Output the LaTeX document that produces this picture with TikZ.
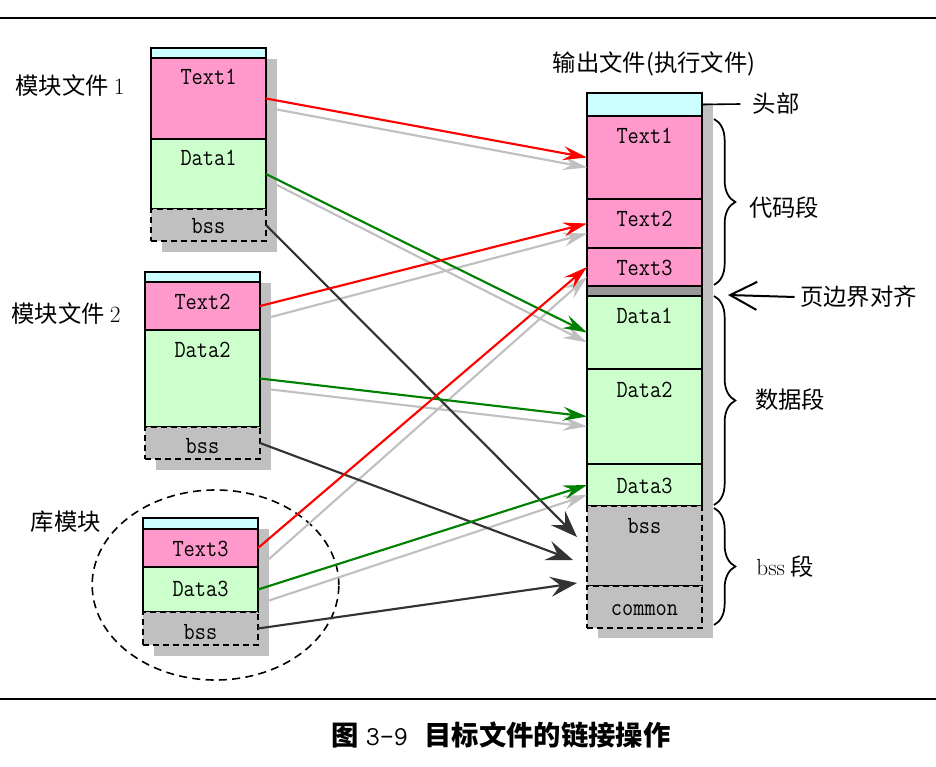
\documentclass[tikz,border=0pt]{standalone}
\usepackage{fontspec}
\newfontfamily\cjk{Noto Sans CJK SC}
\usetikzlibrary{arrows.meta, fit, shapes.geometric, decorations.pathreplacing}
\definecolor{hdrc}{HTML}{CCFFFF}
\definecolor{txtc}{HTML}{FF99CC}
\definecolor{datc}{HTML}{CCFFCC}
\definecolor{bssc}{HTML}{C0C0C0}
\definecolor{shc}{HTML}{C0C0C0}
\definecolor{stripc}{HTML}{999999}
\definecolor{darkc}{HTML}{333333}
\definecolor{grnc}{HTML}{008000}
\newcommand\mtx[1]{\scalebox{0.88}[1]{#1}}
\begin{document}
\begin{tikzpicture}[x=0.75pt, y=-0.75pt,
 sec/.style={draw, line width=2.1pt, inner sep=0pt, outer sep=0pt},
 hdr/.style={sec, fill=hdrc},
 txt/.style={sec, fill=txtc},
 dat/.style={sec, fill=datc},
 bsb/.style={sec, fill=bssc, dash pattern=on 4.5pt off 3pt},
 strip/.style={sec, fill=stripc},
 lbl/.style={anchor=base, inner sep=0pt, font=\fontsize{18.5}{20}\selectfont\ttfamily},
 cn/.style={font=\fontsize{17.5}{20}\selectfont\cjk, inner sep=0pt},
 link/.style={line width=1.6pt, -{Stealth[length=18pt, width=10.5pt, inset=6.5pt]}},
 redl/.style={link, draw=red},
 grnl/.style={link, draw=grnc},
 gryl/.style={link, draw=shc},
 drkl/.style={line width=1.6pt, draw=darkc, -{Stealth[length=20pt, width=15pt, inset=7.5pt]}},
 brc/.style={decorate, decoration={brace, amplitude=16pt}, line width=1.3pt}
]
\useasboundingbox (0,0) rectangle (936,767);
% rules
\draw[line width=2.2pt] (0,18) -- (936,18);
\draw[line width=2.2pt] (0,699) -- (936,699);

% library ellipse
\node[draw, ellipse, dash pattern=on 6pt off 4pt, line width=1.2pt, minimum width=185pt, minimum height=142.5pt, inner sep=0pt] (libov) at (215.5,585) {};

% shadows
\fill[shc] (162,59) rectangle (277,252);
\fill[shc] (156,283) rectangle (271,470);
\fill[shc] (154,529) rectangle (269,656);
\fill[shc] (598,103) rectangle (713,638);

% module 1
\node[hdr, fit={(151,48) (266,58)}] (m1h) {};
\node[txt, fit={(151,58) (266,139)}] (m1t) {};
\node[dat, fit={(151,139) (266,209)}] (m1d) {};
\node[bsb, fit={(151,209) (266,241)}] (m1b) {};
\node[lbl] at ([shift={(0,27)}]m1t.north) {\mtx{Text1}};
\node[lbl] at ([shift={(0,27)}]m1d.north) {\mtx{Data1}};
\node[lbl] at ([shift={(0,24)}]m1b.north) {\mtx{bss}};

% module 2
\node[hdr, fit={(145,272) (260,282)}] (m2h) {};
\node[txt, fit={(145,282) (260,330)}] (m2t) {};
\node[dat, fit={(145,330) (260,427)}] (m2d) {};
\node[bsb, fit={(145,427) (260,459)}] (m2b) {};
\node[lbl] at ([shift={(0,27)}]m2t.north) {\mtx{Text2}};
\node[lbl] at ([shift={(0,27)}]m2d.north) {\mtx{Data2}};
\node[lbl] at ([shift={(0,26)}]m2b.north) {\mtx{bss}};

% library module
\node[hdr, fit={(143,518) (258,529)}] (m3h) {};
\node[txt, fit={(143,529) (258,567)}] (m3t) {};
\node[dat, fit={(143,567) (258,612)}] (m3d) {};
\node[bsb, fit={(143,612) (258,645)}] (m3b) {};
\node[lbl] at ([shift={(0,27)}]m3t.north) {\mtx{Text3}};
\node[lbl] at ([shift={(0,29)}]m3d.north) {\mtx{Data3}};
\node[lbl] at ([shift={(0,27)}]m3b.north) {\mtx{bss}};

% output file
\node[hdr, fit={(587,93) (702,116)}] (oh) {};
\node[txt, fit={(587,116) (702,199)}] (ot1) {};
\node[txt, fit={(587,199) (702,248)}] (ot2) {};
\node[txt, fit={(587,248) (702,286)}] (ot3) {};
\node[strip, fit={(587,286) (702,296)}] (ostrip) {};
\node[dat, fit={(587,296) (702,369)}] (od1) {};
\node[dat, fit={(587,369) (702,464)}] (od2) {};
\node[dat, fit={(587,464) (702,506)}] (od3) {};
\node[bsb, fit={(587,506) (702,586)}] (ob) {};
\node[bsb, fit={(587,586) (702,628)}] (oc) {};
\node[lbl] at ([shift={(0,27)}]ot1.north) {\mtx{Text1}};
\node[lbl] at ([shift={(0,27)}]ot2.north) {\mtx{Text2}};
\node[lbl] at ([shift={(0,27)}]ot3.north) {\mtx{Text3}};
\node[lbl] at ([shift={(0,27)}]od1.north) {\mtx{Data1}};
\node[lbl] at ([shift={(0,28)}]od2.north) {\mtx{Data2}};
\node[lbl] at ([shift={(0,29)}]od3.north) {\mtx{Data3}};
\node[lbl] at ([shift={(0,27)}]ob.north) {\mtx{bss}};
\node[lbl] at ([shift={(0,29)}]oc.north) {\mtx{common}};

% labels
\node[cn] (lm1) at (70,86) {模块文件 {\rmfamily 1}};
\node[cn] (lm2) at (66,314) {模块文件 {\rmfamily 2}};
\node[cn] (llib) at (66,522) {库模块};
\node[cn] (lout) at (654,64) {输出文件(执行文件)};
\node[cn] (lhdr) at (776,104) {头部};
\node[cn] (lcode) at (784,208) {代码段};
\node[cn] (ldata) at (790,400) {数据段};
\node[cn] (lbss) at (785,567) {{\rmfamily bss} 段};
\node[cn, anchor=west] (lpage) at (800,297) {页边界对齐};

% header line and page arrow
\draw[line width=1.2pt] (oh.east) -- ([xshift=-9pt]lhdr.west);
\coordinate (pgtip) at (728,295);
\draw[line width=1.5pt, -{Straight Barb[length=20pt, width=21pt]}] ([xshift=-4pt]lpage.west) -- (pgtip);

% braces
\draw[brc] (714,119) -- (714,285);
\draw[brc] (714,296) -- (714,505);
\draw[brc] (714,508) -- (714,625);

% shadow connectors
\draw[gryl] ([shift={(11,11)}]m1t.east) -- ([shift={(0,10)}]ot1.west);
\draw[gryl] ([shift={(11,11)}]m1d.east) -- ([shift={(0,10)}]od1.west);
\draw[gryl] ([shift={(11,11)}]m2t.east) -- ([shift={(0,10)}]ot2.west);
\draw[gryl] ([shift={(11,11)}]m2d.east) -- ([shift={(0,10)}]od2.west);
\draw[gryl] ([shift={(11,11)}]m3t.east) -- ([shift={(0,10)}]ot3.west);
\draw[gryl] ([shift={(11,11)}]m3d.east) -- ([shift={(0,10)}]od3.west);

% dark bss connectors
\coordinate (bt1) at (577,537);
\coordinate (bt2) at (573,560);
\coordinate (bt3) at (577,583);
\draw[drkl] (m1b.east) -- (bt1);
\draw[drkl] (m2b.east) -- (bt2);
\draw[drkl] (m3b.east) -- (bt3);

% colored connectors
\draw[redl] (m1t.east) -- (ot1.west);
\draw[grnl] (m1d.east) -- (od1.west);
\draw[redl] (m2t.east) -- (ot2.west);
\draw[grnl] (m2d.east) -- (od2.west);
\draw[redl] (m3t.east) -- (ot3.west);
\draw[grnl] (m3d.east) -- (od3.west);

% caption
\node[font=\fontsize{20.5}{24}\selectfont\cjk\bfseries, inner sep=0pt] (cap) at (501,735) {图\hspace{0.25em}{\ttfamily\mdseries 3-9}\hspace{0.6em}目标文件的链接操作};
\end{tikzpicture}
\end{document}
